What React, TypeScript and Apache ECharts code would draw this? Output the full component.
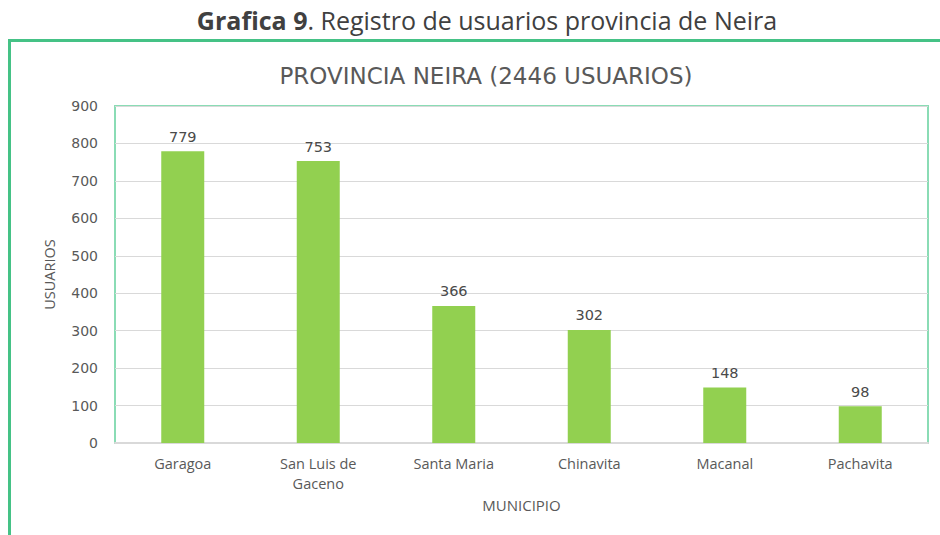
import React, { useEffect, useRef } from "react";
import * as echarts from "echarts";

const categories = ["Garagoa", "San Luis de\nGaceno", "Santa Maria", "Chinavita", "Macanal", "Pachavita"];
const usuarios = [779, 753, 366, 302, 148, 98];
const yTicks = { min: 0, max: 900, interval: 100 };
const headerBold = "Grafica 9";
const headerRest = ". Registro de usuarios provincia de Neira";
const chartTitle = "PROVINCIA NEIRA (2446 USUARIOS)";
const xName = "MUNICIPIO";
const yName = "USUARIOS";

const FONT = "'Open Sans', 'Noto Sans', sans-serif";
const WIDE = "'DejaVu Sans', sans-serif";

export default function App() {
  const ref = useRef<HTMLDivElement>(null);
  useEffect(() => {
    if (!ref.current) return;
    const chart = echarts.init(ref.current, null, { renderer: "svg" });
    chart.setOption({
      animation: false,
      backgroundColor: "#ffffff",
      textStyle: { fontFamily: FONT },
      title: [
        {
          text: `{b|${headerBold}}{r|${headerRest}}`,
          left: 482,
          textAlign: "center",
          top: 2,
          textStyle: {
            rich: {
              b: { fontFamily: FONT, fontSize: 25, fontWeight: "bold", color: "#404040" },
              r: { fontFamily: FONT, fontSize: 25, fontWeight: "normal", color: "#404040" },
            },
          },
        },
        {
          text: chartTitle,
          left: 481,
          textAlign: "center",
          top: 59,
          textStyle: { fontFamily: WIDE, fontSize: 23, fontWeight: "normal", color: "#595959" },
        },
      ],
      graphic: [
        {
          type: "polyline",
          shape: { points: [[9.5, 535], [9.5, 40.5], [940, 40.5]] },
          style: { stroke: "#45c286", lineWidth: 3, fill: null },
          silent: true,
        },
      ],
      grid: {
        left: 115,
        right: 12,
        top: 106,
        bottom: 92,
        show: true,
        borderColor: "#8adcb5",
        borderWidth: 2,
      },
      xAxis: {
        type: "category",
        data: categories,
        name: xName,
        nameLocation: "middle",
        nameGap: 54,
        nameTextStyle: { fontFamily: FONT, fontSize: 15, color: "#595959" },
        axisLine: { show: true, lineStyle: { color: "#d9d9d9", width: 2 } },
        axisTick: { show: false },
        axisLabel: { fontFamily: FONT, fontSize: 14.5, color: "#595959", margin: 10, lineHeight: 20 },
      },
      yAxis: {
        type: "value",
        min: yTicks.min,
        max: yTicks.max,
        interval: yTicks.interval,
        name: yName,
        nameLocation: "middle",
        nameGap: 58,
        nameTextStyle: { fontFamily: FONT, fontSize: 14.5, color: "#595959" },
        axisLine: { show: false },
        axisTick: { show: false },
        axisLabel: { fontFamily: WIDE, fontSize: 14, color: "#595959", margin: 17 },
        splitLine: { lineStyle: { color: "#d9d9d9", width: 1 } },
      },
      series: [
        {
          type: "bar",
          data: usuarios,
          barWidth: 43,
          itemStyle: { color: "#92d050" },
          label: {
            show: true,
            position: "top",
            distance: 7,
            fontFamily: WIDE,
            fontSize: 14.5,
            color: "#4a4a4a",
          },
        },
      ],
    });
    return () => chart.dispose();
  }, []);
  return <div ref={ref} style={{ width: 940, height: 535, position: "absolute", left: 0, top: 0 }} />;
}
